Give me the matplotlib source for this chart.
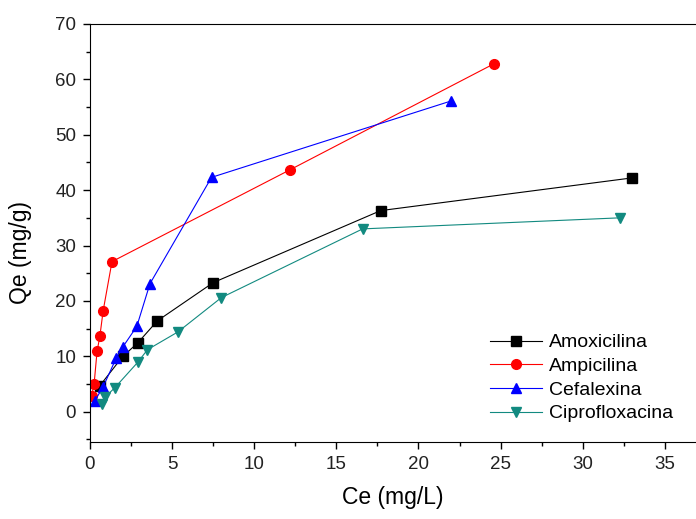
import matplotlib
matplotlib.use("Agg")
import matplotlib.pyplot as plt
from matplotlib.ticker import MultipleLocator

plt.rcParams['font.family'] = ['Liberation Sans', 'DejaVu Sans']

# Data
amox_ce = [0.6, 2.0, 2.9, 4.1, 7.5, 17.7, 33.0]
amox_qe = [4.7, 10.0, 12.4, 16.4, 23.3, 36.3, 42.2]

ampi_ce = [0.1, 0.25, 0.43, 0.6, 0.8, 1.34, 12.2, 24.6]
ampi_qe = [2.9, 5.0, 10.9, 13.6, 18.2, 27.1, 43.7, 62.8]

cefa_ce = [0.3, 0.8, 1.6, 2.0, 2.85, 3.65, 7.4, 22.0]
cefa_qe = [2.0, 4.5, 9.7, 11.7, 15.4, 23.1, 42.3, 56.1]

cipro_ce = [0.73, 0.9, 1.5, 2.9, 3.5, 5.35, 8.0, 16.6, 32.3]
cipro_qe = [1.4, 2.6, 4.3, 8.9, 11.2, 14.4, 20.6, 33.0, 35.0]

series = [
    ("Amoxicilina", amox_ce, amox_qe, "black", "s"),
    ("Ampicilina", ampi_ce, ampi_qe, "#ff0000", "o"),
    ("Cefalexina", cefa_ce, cefa_qe, "#0000ff", "^"),
    ("Ciprofloxacina", cipro_ce, cipro_qe, "#128a80", "v"),
]

fig = plt.figure(figsize=(6.96, 5.19), dpi=100)
ax = fig.add_axes([0.1293, 0.149, 0.8707, 0.805])

for name, x, y, color, marker in series:
    ax.plot(x, y, color=color, marker=marker, markersize=7, linewidth=0.8,
            label=name)

ax.set_xlim(0, 36.9)
ax.set_ylim(-5.4, 70)
ax.xaxis.set_major_locator(MultipleLocator(5))
ax.xaxis.set_minor_locator(MultipleLocator(2.5))
ax.yaxis.set_major_locator(MultipleLocator(10))
ax.yaxis.set_minor_locator(MultipleLocator(5))
ax.tick_params(which='major', direction='out', length=5, width=1,
               labelsize=13.5, labelcolor='#222222', pad=5)
ax.tick_params(which='minor', direction='out', length=3, width=1)
ax.spines['right'].set_visible(False)

ax.set_xlabel("Ce (mg/L)", fontsize=16.5)
ax.set_ylabel("Qe (mg/g)", fontsize=16.5)
ax.xaxis.set_label_coords(0.5, -0.105)
ax.yaxis.set_label_coords(-0.095, 0.452)

leg = ax.legend(loc='upper left', bbox_to_anchor=(0.66, 0.258), frameon=False,
                fontsize=14, handlelength=2.7, handletextpad=0.35,
                labelspacing=0.31, borderpad=0, borderaxespad=0)

fig.savefig("out.png", dpi=100)
